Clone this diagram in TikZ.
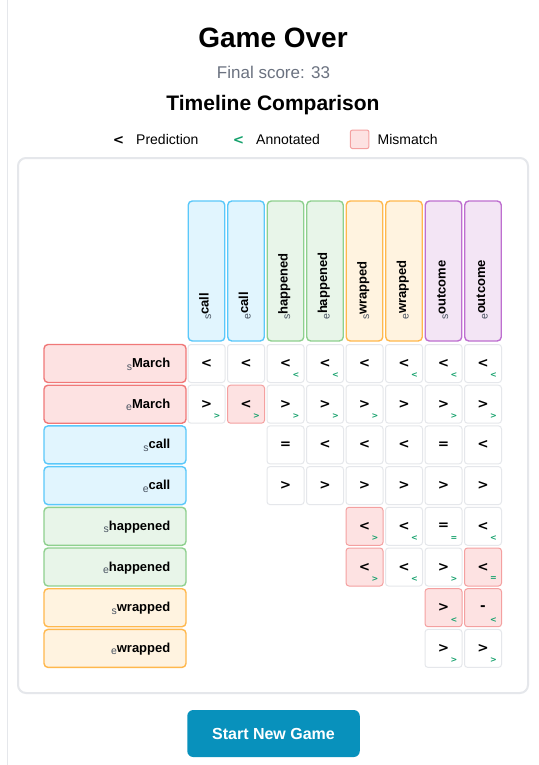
\documentclass[tikz,border=0pt]{standalone}
\usepackage{fontspec}
\setmainfont{Liberation Sans}
\newfontfamily\symfont{DejaVu Sans}
\usetikzlibrary{positioning}

\definecolor{callline}{HTML}{5AC8FA}
\definecolor{callfill}{HTML}{E1F5FE}
\definecolor{hapline}{HTML}{8ED08E}
\definecolor{hapfill}{HTML}{E8F5E9}
\definecolor{wrapline}{HTML}{FFB84D}
\definecolor{wrapfill}{HTML}{FFF3E0}
\definecolor{outcline}{HTML}{BE6FD0}
\definecolor{outcfill}{HTML}{F3E5F5}
\definecolor{marline}{HTML}{F07878}
\definecolor{marfill}{HTML}{FDE2E2}
\definecolor{misline}{HTML}{F4A0A0}
\definecolor{misfill}{HTML}{FDE2E2}
\definecolor{cellgray}{HTML}{E5E7EB}
\definecolor{annogreen}{HTML}{12A06A}
\definecolor{scoregray}{HTML}{6B7280}
\definecolor{subgray}{HTML}{4B5563}
\definecolor{btnblue}{HTML}{0891BC}

\newcommand{\evlabel}[2]{\raisebox{-2.5pt}{\fontsize{10.5}{10.5}\selectfont\color{subgray}#1}\textbf{#2}}

\begin{document}
\begin{tikzpicture}[x=1pt, y=-1pt,
  cell/.style={draw=cellgray, fill=white, line width=1pt, rounded corners=3pt,
               minimum width=37, minimum height=38, inner sep=0pt,
               font=\symfont\fontsize{13.5}{13.5}\selectfont\bfseries},
  miss/.style={cell, draw=misline, fill=misfill},
  annot/.style={inner sep=0pt, text=annogreen, font=\symfont\fontsize{8}{8}\selectfont\bfseries},
  colbox/.style={rounded corners=4pt, line width=1.4pt, inner sep=0pt,
                 minimum width=36.5, minimum height=140},
  rowbox/.style={rounded corners=4pt, line width=1.4pt, inner sep=0pt,
                 minimum width=142, minimum height=38},
  legtext/.style={anchor=base west, inner sep=0pt, font=\fontsize{14}{14}\selectfont}]

 \useasboundingbox[fill=white] (0,0) rectangle (538,765);
 \draw[cellgray, line width=1pt] (7,0) -- (7,765);

 % Headings
 \node[anchor=base, inner sep=0pt, font=\fontsize{28}{28}\selectfont\bfseries]
     (title) at (273,48) {Game Over};
 \node[anchor=base, inner sep=0pt, text=scoregray, font=\fontsize{17}{17}\selectfont]
     (score) at (273.5,78.5) {Final score: 33};
 \node[anchor=base, inner sep=0pt, font=\fontsize{21}{21}\selectfont\bfseries]
     (subtitle) at (273,111) {Timeline Comparison};

 % Legend
 \node[inner sep=0pt, font=\symfont\fontsize{13.5}{13.5}\selectfont\bfseries] (legpred) at (118.5,140) {<};
 \node[legtext] (legpredtext) at (136,144.5) {Prediction};
 \node[inner sep=0pt, text=annogreen, font=\symfont\fontsize{13.5}{13.5}\selectfont\bfseries] (legann) at (238.5,140) {<};
 \node[legtext] (leganntext) at (256,144.5) {Annotated};
 \node[draw=misline, fill=misfill, line width=1pt, rounded corners=2pt,
       minimum size=18.5, inner sep=0pt] (legmis) at (359.7,139.3) {};
 \node[legtext] (legmistext) at (377.5,144.5) {Mismatch};

 % Board
 \draw[cellgray, line width=2pt, rounded corners=8pt] (18,158) rectangle (528,693);

 % Column headers
 \foreach \c/\ev/\word/\kind in {1/s/call/call, 2/e/call/call, 3/s/happened/hap, 4/e/happened/hap,
                                 5/s/wrapped/wrap, 6/e/wrapped/wrap, 7/s/outcome/outc, 8/e/outcome/outc} {
   \node[colbox, draw=\kind line, fill=\kind fill] (col\c) at ({206.5+39.5*(\c-1)},271) {};
   \node[rotate=90, anchor=base west, inner sep=0pt, font=\fontsize{13}{13}\selectfont]
       (coltext\c) at ({208.5+39.5*(\c-1)},320) {\evlabel{\ev}{\word}};
 }

 % Row headers
 \foreach \r/\ev/\word/\kind in {1/s/March/mar, 2/e/March/mar, 3/s/call/call, 4/e/call/call,
                                 5/s/happened/hap, 6/e/happened/hap, 7/s/wrapped/wrap, 8/e/wrapped/wrap} {
   \node[rowbox, draw=\kind line, fill=\kind fill] (row\r) at (115,{363.5+40.7*(\r-1)}) {};
   \node[anchor=base east, inner sep=0pt, font=\fontsize{13}{13}\selectfont]
       (rowtext\r) at (170.5,{367.5+40.7*(\r-1)}) {\evlabel{\ev}{\word}};
 }

 % Cells: row / column / prediction / annotated / style
 \foreach \r/\c/\p/\a/\st in {1/1/</{}/cell, 1/2/</{}/cell, 1/3/</</cell, 1/4/</</cell,
                              1/5/</{}/cell, 1/6/</</cell, 1/7/</</cell, 1/8/</</cell,
                              2/1/>/>/cell, 2/2/</>/miss, 2/3/>/>/cell, 2/4/>/>/cell,
                              2/5/>/>/cell, 2/6/>/{}/cell, 2/7/>/>/cell, 2/8/>/>/cell,
                              3/3/=/{}/cell, 3/4/</{}/cell, 3/5/</{}/cell, 3/6/</{}/cell, 3/7/=/{}/cell, 3/8/</{}/cell,
                              4/3/>/{}/cell, 4/4/>/{}/cell, 4/5/>/{}/cell, 4/6/>/{}/cell, 4/7/>/{}/cell, 4/8/>/{}/cell,
                              5/5/</>/miss, 5/6/</</cell, 5/7/=/=/cell, 5/8/</</cell,
                              6/5/</>/miss, 6/6/</</cell, 6/7/>/>/cell, 6/8/</=/miss,
                              7/7/>/</miss, 7/8/-/</miss,
                              8/7/>/>/cell, 8/8/>/>/cell} {
   \node[\st] (c\r\c) at ({206.5+39.5*(\c-1)},{363.5+40.7*(\r-1)}) {\p};
   \node[annot] (a\r\c) at ([xshift=-8.5pt,yshift=7.5pt]c\r\c.south east) {\a};
 }

 % Button
 \node[fill=btnblue, rounded corners=6pt, minimum width=172.5, minimum height=47,
       text=white, font=\fontsize{16}{16}\selectfont\bfseries] (newgame) at (273.5,733.5) {Start New Game};
\end{tikzpicture}
\end{document}
